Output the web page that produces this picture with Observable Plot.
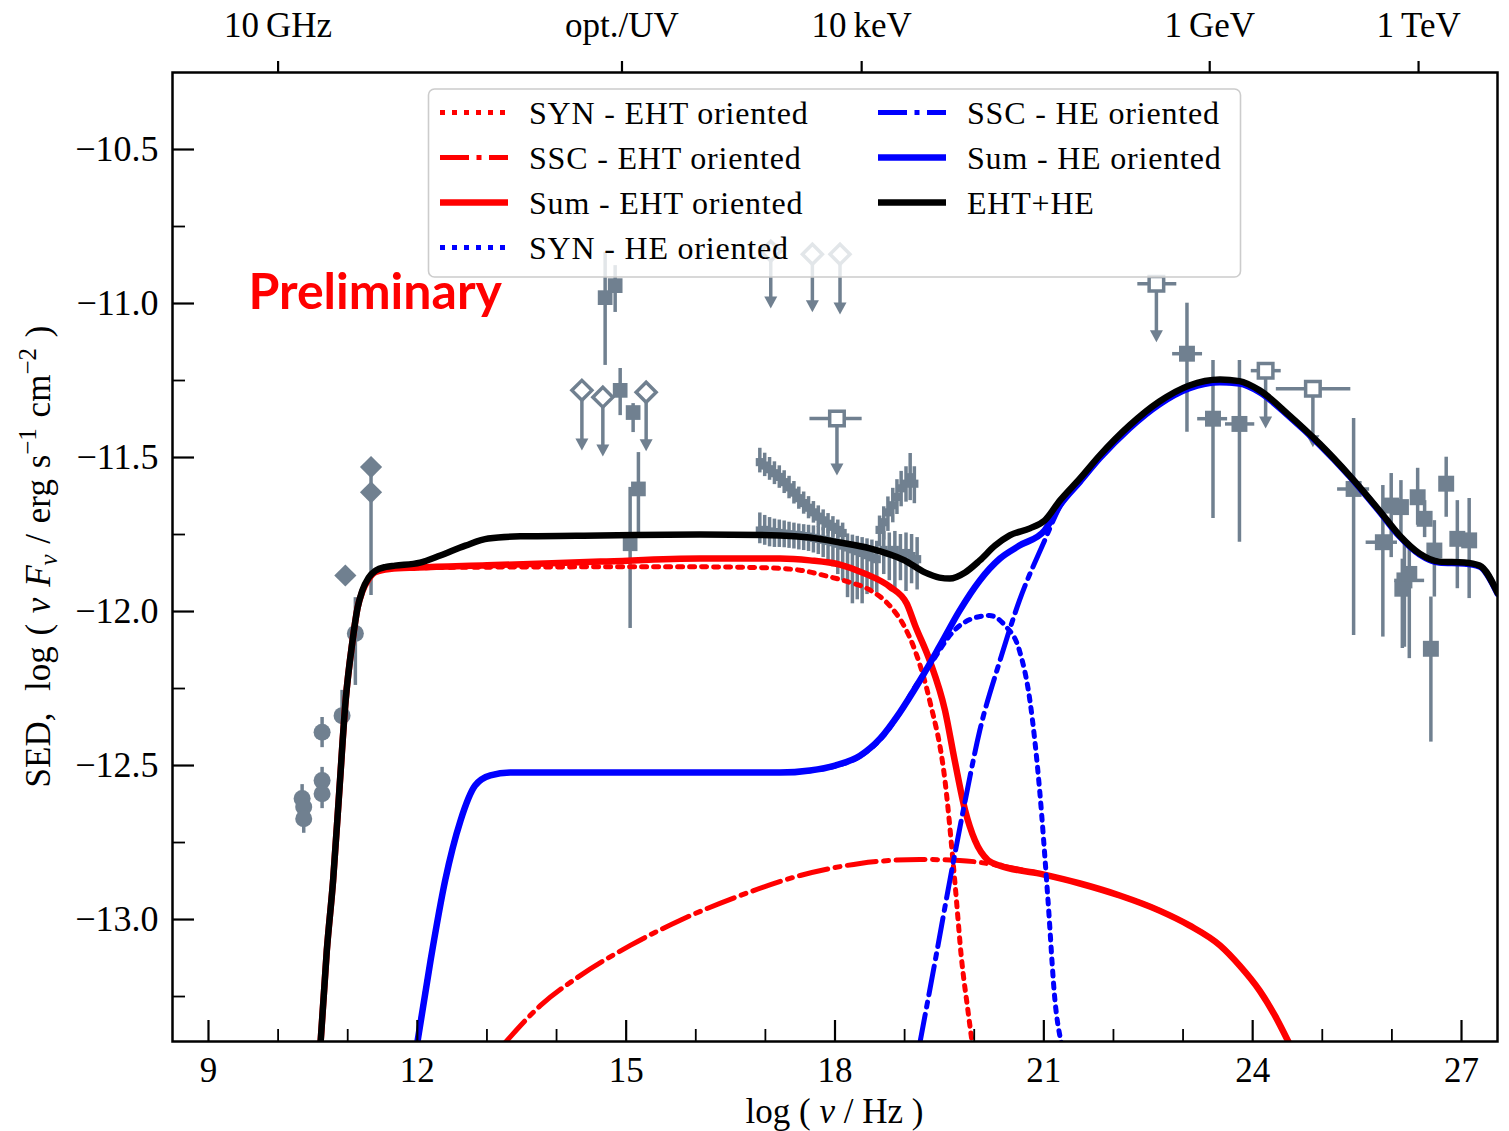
<!DOCTYPE html>
<html><head><meta charset="utf-8">
<script src="https://cdn.jsdelivr.net/npm/d3@7"></script>
<script src="https://cdn.jsdelivr.net/npm/@observablehq/plot@0.6"></script>
<style>
html,body{margin:0;padding:0;background:#fff;}
#chart{width:1509px;height:1131px;}
</style></head>
<body><div id="chart"></div>
<script>
// ---------- axis ticks ----------
const xMajorTicks = [9, 12, 15, 18, 21, 24, 27];
const xMinorTicks = [10, 11, 13, 14, 16, 17, 19, 20, 22, 23, 25, 26];
const yMajorTicks = [-10.5, -11.0, -11.5, -12.0, -12.5, -13.0];
const yMinorTicks = [-10.75, -11.25, -11.75, -12.25, -12.75, -13.25];
const topTickPos = [10.0, 14.94, 18.383, 23.383, 26.383];
const topTickLab = ["10\u2009GHz", "opt./UV", "10\u2009keV", "1\u2009GeV", "1\u2009TeV"];

// ---------- model curves [log nu, log nuFnu] ----------
const synEHT = [[10.61,-13.40],[10.70,-13.10],[10.79,-12.873],[10.88,-12.58],[10.97,-12.289],[11.07,-12.094],[11.14,-11.99],[11.21,-11.935],[11.30,-11.895],[11.40,-11.872],[11.60,-11.862],[12.0,-11.858],[13.0,-11.856],[14.63,-11.855],[16.06,-11.855],[17.0,-11.858],[17.5,-11.866],[17.88,-11.885],[18.21,-11.905],[18.5,-11.93],[18.79,-11.982],[19.0,-12.05],[19.15,-12.127],[19.36,-12.289],[19.58,-12.549],[19.72,-12.873],[19.82,-13.133],[19.91,-13.296],[19.97,-13.40]];
const sscEHT = [[13.26,-13.40],[13.77,-13.279],[14.34,-13.182],[15.06,-13.084],[15.77,-13.003],[16.64,-12.922],[17.50,-12.857],[18.36,-12.818],[19.22,-12.805],[19.79,-12.808],[20.37,-12.825],[20.94,-12.851],[21.52,-12.883],[22.09,-12.922],[22.66,-12.971],[23.09,-13.019],[23.53,-13.084],[23.81,-13.149],[24.10,-13.231],[24.32,-13.312],[24.52,-13.40]];
const sumEHT = [[10.61,-13.40],[10.70,-13.10],[10.79,-12.873],[10.88,-12.58],[10.97,-12.289],[11.07,-12.094],[11.14,-11.99],[11.21,-11.935],[11.30,-11.895],[11.40,-11.872],[11.60,-11.862],[12.0,-11.857],[13.0,-11.850],[14.63,-11.838],[16.06,-11.828],[17.21,-11.828],[17.64,-11.834],[18.07,-11.848],[18.43,-11.877],[18.79,-11.92],[19.03,-11.974],[19.15,-12.045],[19.36,-12.159],[19.58,-12.321],[19.72,-12.484],[19.87,-12.646],[20.01,-12.743],[20.20,-12.808],[20.37,-12.825],[20.94,-12.851],[21.52,-12.883],[22.09,-12.922],[22.66,-12.971],[23.09,-13.019],[23.53,-13.084],[23.81,-13.149],[24.10,-13.231],[24.32,-13.312],[24.52,-13.40]];
const synHE = [[12.0,-13.40],[12.19,-13.133],[12.40,-12.873],[12.62,-12.679],[12.83,-12.565],[13.05,-12.532],[13.33,-12.523],[17.21,-12.523],[17.64,-12.517],[18.0,-12.502],[18.36,-12.47],[18.65,-12.415],[18.93,-12.33],[19.15,-12.245],[19.36,-12.175],[19.72,-12.06],[20.01,-12.02],[20.22,-12.013],[20.44,-12.045],[20.65,-12.127],[20.80,-12.289],[20.94,-12.581],[21.06,-12.938],[21.16,-13.263],[21.25,-13.40]];
const sscHE = [[19.22,-13.40],[19.44,-13.133],[19.65,-12.873],[19.87,-12.614],[20.08,-12.386],[20.37,-12.159],[20.65,-11.964],[21.01,-11.77],[21.23,-11.66],[21.52,-11.579],[21.80,-11.503],[22.23,-11.405],[22.66,-11.327],[23.09,-11.275],[23.53,-11.256],[23.81,-11.26],[24.10,-11.288],[24.53,-11.368],[24.96,-11.458],[25.39,-11.56],[25.82,-11.675],[26.11,-11.756],[26.40,-11.815],[26.68,-11.841],[27.04,-11.844],[27.26,-11.854],[27.52,-11.943]];
const sumHE = [[12.0,-13.40],[12.19,-13.133],[12.40,-12.873],[12.62,-12.679],[12.83,-12.565],[13.05,-12.532],[13.33,-12.523],[14.63,-12.523],[17.21,-12.523],[17.64,-12.516],[18.0,-12.50],[18.36,-12.468],[18.65,-12.412],[18.93,-12.328],[19.22,-12.224],[19.51,-12.110],[19.79,-11.997],[20.08,-11.899],[20.37,-11.828],[20.65,-11.786],[21.01,-11.737],[21.23,-11.655],[21.52,-11.578],[21.80,-11.503],[22.23,-11.405],[22.66,-11.327],[23.09,-11.275],[23.53,-11.256],[23.81,-11.26],[24.10,-11.288],[24.53,-11.368],[24.96,-11.458],[25.39,-11.56],[25.82,-11.675],[26.11,-11.756],[26.40,-11.815],[26.68,-11.841],[27.04,-11.844],[27.26,-11.854],[27.52,-11.943]];
const ehtHE = [[10.61,-13.40],[10.70,-13.10],[10.79,-12.873],[10.88,-12.58],[10.97,-12.289],[11.07,-12.094],[11.14,-11.99],[11.21,-11.932],[11.30,-11.89],[11.40,-11.867],[11.55,-11.855],[11.68,-11.851],[12.04,-11.841],[12.33,-11.818],[12.69,-11.786],[13.02,-11.763],[13.48,-11.756],[14.63,-11.753],[16.06,-11.750],[17.21,-11.753],[17.64,-11.760],[18.07,-11.776],[18.50,-11.795],[19.00,-11.834],[19.29,-11.873],[19.50,-11.89],[19.65,-11.893],[19.87,-11.873],[20.08,-11.834],[20.30,-11.786],[20.51,-11.753],[20.80,-11.730],[21.01,-11.705],[21.23,-11.640],[21.52,-11.568],[21.80,-11.494],[22.23,-11.396],[22.66,-11.318],[23.09,-11.266],[23.53,-11.247],[23.81,-11.252],[24.10,-11.282],[24.53,-11.364],[24.96,-11.455],[25.39,-11.558],[25.82,-11.672],[26.11,-11.753],[26.40,-11.812],[26.68,-11.838],[27.04,-11.841],[27.26,-11.851],[27.52,-11.94]];

// ---------- data points ----------
const radioCircles = [
  {x:10.345, y:-12.607, lo:-12.652, hi:-12.562},
  {x:10.368, y:-12.635, lo:-12.680, hi:-12.590},
  {x:10.368, y:-12.673, lo:-12.720, hi:-12.628},
  {x:10.632, y:-12.549, lo:-12.590, hi:-12.506},
  {x:10.632, y:-12.592, lo:-12.640, hi:-12.550},
  {x:10.632, y:-12.392, lo:-12.442, hi:-12.344},
  {x:10.919, y:-12.338, lo:-12.364, hi:-12.256},
  {x:11.110, y:-12.071, lo:-12.240, hi:-11.955}
];
const radioDiamonds = [
  {x:10.966, y:-11.883, lo:-11.883, hi:-11.883},
  {x:11.335, y:-11.531, lo:-11.531, hi:-11.531},
  {x:11.335, y:-11.613, lo:-11.948, hi:-11.56}
];
const optSquares = [
  {x:14.698, y:-10.981, lo:-11.201, hi:-10.834},
  {x:14.842, y:-10.942, lo:-11.029, hi:-10.877},
  {x:14.914, y:-11.282, lo:-11.364, hi:-11.211},
  {x:15.100, y:-11.354, lo:-11.419, hi:-11.325},
  {x:15.176, y:-11.602, lo:-11.744, hi:-11.484},
  {x:15.057, y:-11.780, lo:-12.055, hi:-11.597}
];
const ulDiamonds = [
  {x:14.364, y:-11.282, tip:-11.477},
  {x:14.665, y:-11.304, tip:-11.497},
  {x:15.287, y:-11.288, tip:-11.480},
  {x:17.077, y:-10.830, tip:-11.016},
  {x:17.675, y:-10.840, tip:-11.028},
  {x:18.072, y:-10.840, tip:-11.036}
];
const ulSquares = [
  {x:18.028, y:-11.373, tip:-11.558, xlo:17.64, xhi:18.39},
  {x:22.617, y:-10.936, tip:-11.126, xlo:22.35, xhi:22.91},
  {x:24.186, y:-11.218, tip:-11.406, xlo:23.98, xhi:24.41},
  {x:24.865, y:-11.277, tip:-11.467, xlo:24.34, xhi:25.41}
];
const gammaSquares = [
  {x:23.056, y:-11.163, lo:-11.418, hi:-10.999, xlo:22.85, xhi:23.28},
  {x:23.430, y:-11.374, lo:-11.698, hi:-11.185, xlo:23.21, xhi:23.64},
  {x:23.810, y:-11.391, lo:-11.775, hi:-11.185, xlo:23.61, xhi:24.03},
  {x:25.450, y:-11.602, lo:-12.078, hi:-11.373, xlo:25.22, xhi:25.68},
  {x:25.870, y:-11.775, lo:-12.083, hi:-11.591, xlo:25.63, xhi:26.08},
  {x:25.990, y:-11.656, lo:-11.825, hi:-11.552, xlo:25.88, xhi:26.10},
  {x:26.130, y:-11.661, lo:-11.770, hi:-11.575, xlo:26.03, xhi:26.23},
  {x:26.370, y:-11.629, lo:-11.720, hi:-11.535, xlo:26.28, xhi:26.45},
  {x:26.470, y:-11.699, lo:-11.760, hi:-11.640, xlo:26.47, xhi:26.47},
  {x:26.780, y:-11.585, lo:-11.694, hi:-11.499, xlo:26.78, xhi:26.78},
  {x:26.610, y:-11.802, lo:-11.953, hi:-11.705, xlo:26.61, xhi:26.61},
  {x:26.180, y:-11.899, lo:-12.116, hi:-11.769, xlo:26.04, xhi:26.47},
  {x:26.150, y:-11.926, lo:-12.120, hi:-11.830, xlo:26.15, xhi:26.15},
  {x:26.250, y:-11.878, lo:-12.153, hi:-11.790, xlo:26.25, xhi:26.25},
  {x:26.940, y:-11.764, lo:-11.926, hi:-11.640, xlo:26.85, xhi:27.05},
  {x:27.110, y:-11.769, lo:-11.958, hi:-11.633, xlo:27.00, xhi:27.23},
  {x:26.560, y:-12.121, lo:-12.424, hi:-11.953, xlo:26.56, xhi:26.56}
];
const xraySoft = [
  {x:16.92, y:-11.515, lo:-11.550, hi:-11.470},
  {x:16.99, y:-11.526, lo:-11.562, hi:-11.486},
  {x:17.06, y:-11.538, lo:-11.574, hi:-11.500},
  {x:17.13, y:-11.551, lo:-11.588, hi:-11.514},
  {x:17.20, y:-11.563, lo:-11.600, hi:-11.527},
  {x:17.27, y:-11.580, lo:-11.617, hi:-11.543},
  {x:17.34, y:-11.597, lo:-11.634, hi:-11.561},
  {x:17.41, y:-11.614, lo:-11.651, hi:-11.578},
  {x:17.48, y:-11.632, lo:-11.668, hi:-11.596},
  {x:17.55, y:-11.648, lo:-11.684, hi:-11.612},
  {x:17.62, y:-11.663, lo:-11.699, hi:-11.627},
  {x:17.69, y:-11.678, lo:-11.713, hi:-11.643},
  {x:17.76, y:-11.692, lo:-11.727, hi:-11.657},
  {x:17.83, y:-11.704, lo:-11.738, hi:-11.670},
  {x:17.90, y:-11.715, lo:-11.748, hi:-11.682},
  {x:17.97, y:-11.725, lo:-11.758, hi:-11.692},
  {x:18.04, y:-11.735, lo:-11.766, hi:-11.703},
  {x:18.11, y:-11.745, lo:-11.776, hi:-11.713}
];
const xrayFlat = [
  {x:16.92, y:-11.737, lo:-11.780, hi:-11.680},
  {x:16.99, y:-11.735, lo:-11.785, hi:-11.688},
  {x:17.06, y:-11.740, lo:-11.790, hi:-11.695},
  {x:17.13, y:-11.742, lo:-11.792, hi:-11.700},
  {x:17.20, y:-11.745, lo:-11.792, hi:-11.703},
  {x:17.27, y:-11.747, lo:-11.793, hi:-11.706},
  {x:17.34, y:-11.749, lo:-11.795, hi:-11.710},
  {x:17.41, y:-11.751, lo:-11.797, hi:-11.713},
  {x:17.48, y:-11.752, lo:-11.800, hi:-11.716},
  {x:17.55, y:-11.755, lo:-11.802, hi:-11.718},
  {x:17.62, y:-11.757, lo:-11.805, hi:-11.720},
  {x:17.69, y:-11.761, lo:-11.810, hi:-11.722},
  {x:17.76, y:-11.764, lo:-11.815, hi:-11.725},
  {x:17.83, y:-11.767, lo:-11.825, hi:-11.728},
  {x:17.90, y:-11.771, lo:-11.840, hi:-11.731},
  {x:17.97, y:-11.775, lo:-11.855, hi:-11.735},
  {x:18.04, y:-11.780, lo:-11.880, hi:-11.740},
  {x:18.11, y:-11.786, lo:-11.900, hi:-11.744},
  {x:18.18, y:-11.792, lo:-11.955, hi:-11.748},
  {x:18.25, y:-11.798, lo:-11.975, hi:-11.752},
  {x:18.32, y:-11.804, lo:-11.962, hi:-11.756},
  {x:18.39, y:-11.810, lo:-11.975, hi:-11.760},
  {x:18.46, y:-11.817, lo:-11.945, hi:-11.764},
  {x:18.53, y:-11.824, lo:-11.930, hi:-11.768},
  {x:18.60, y:-11.830, lo:-11.940, hi:-11.772}
];
const xrayHard = [
  {x:18.64, y:-11.735, lo:-11.790, hi:-11.690},
  {x:18.70, y:-11.710, lo:-11.768, hi:-11.660},
  {x:18.76, y:-11.678, lo:-11.740, hi:-11.628},
  {x:18.83, y:-11.655, lo:-11.712, hi:-11.600},
  {x:18.89, y:-11.628, lo:-11.685, hi:-11.572},
  {x:18.95, y:-11.600, lo:-11.660, hi:-11.545},
  {x:19.02, y:-11.585, lo:-11.645, hi:-11.530},
  {x:19.08, y:-11.564, lo:-11.640, hi:-11.487},
  {x:19.14, y:-11.585, lo:-11.650, hi:-11.530}
];
const xrayHardLow = [
  {x:18.70, y:-11.800, lo:-11.880, hi:-11.740},
  {x:18.78, y:-11.810, lo:-11.900, hi:-11.745},
  {x:18.86, y:-11.800, lo:-11.930, hi:-11.740},
  {x:18.94, y:-11.820, lo:-11.900, hi:-11.750},
  {x:19.02, y:-11.810, lo:-11.935, hi:-11.745},
  {x:19.10, y:-11.820, lo:-11.910, hi:-11.750},
  {x:19.18, y:-11.830, lo:-11.930, hi:-11.760}
];
const annotations = [{text: "Preliminary", x: 9.574, y: -11.019}];

// ---------- styling ----------
const SERIF = "'Liberation Serif', 'Times New Roman', serif";
const GRAY = "#708090";
const W = 1509, H = 1131, ML = 172, MR = 12, MT = 72, MB = 90;
const PW = W - ML - MR, PH = H - MT - MB;
const DOT = "5,7", DASHDOT = "29,7.5,5,7.5";
const LW = 6.5, LW2 = 5;

const triDown = {draw(ctx) { ctx.moveTo(-6.5, -12); ctx.lineTo(6.5, -12); ctx.lineTo(0, 0); ctx.closePath(); }};
const topMap = new Map(topTickPos.map((v, i) => [v, topTickLab[i]]));
const yFmt = d => d3.format(".1f")(d).replace("-", "\u2212");

const errAll = [...radioCircles, ...radioDiamonds, ...optSquares, ...gammaSquares];
const xrayAll = [...xraySoft, ...xrayFlat, ...xrayHard, ...xrayHardLow];
const line = (data, stroke, w, dash) => Plot.line(data, {x: d => d[0], y: d => d[1], stroke, strokeWidth: w, strokeDasharray: dash, curve: "monotone-x", clip: true, strokeLinejoin: "round"});

const svg = Plot.plot({
  width: W, height: H,
  marginLeft: ML, marginRight: MR, marginTop: MT, marginBottom: MB,
  x: {domain: [8.483, 27.517]},
  y: {domain: [-13.396, -10.25]},
  style: {fontFamily: SERIF, background: "white", color: "black", overflow: "visible"},
  marks: [
    // error bars
    Plot.ruleX(errAll, {x: "x", y1: "lo", y2: "hi", stroke: GRAY, strokeWidth: 3.5, clip: true}),
    Plot.ruleY(gammaSquares, {y: "y", x1: "xlo", x2: "xhi", stroke: GRAY, strokeWidth: 3.5, clip: true}),
    Plot.ruleX(xrayAll, {x: "x", y1: "lo", y2: "hi", stroke: GRAY, strokeWidth: 3.5, clip: true}),
    // upper limits
    Plot.ruleX([...ulDiamonds, ...ulSquares], {x: "x", y1: "y", y2: "tip", stroke: GRAY, strokeWidth: 3.5, dy: -4, clip: true}),
    Plot.ruleY(ulSquares, {y: "y", x1: "xlo", x2: "xhi", stroke: GRAY, strokeWidth: 3.5, clip: true}),
    Plot.dot([...ulDiamonds, ...ulSquares], {x: "x", y: "tip", symbol: triDown, fill: GRAY, stroke: "none", clip: true}),
    // markers
    Plot.dot(xrayAll, {x: "x", y: "y", symbol: "square", r: 4.6, fill: GRAY, clip: true}),
    Plot.dot(radioCircles, {x: "x", y: "y", symbol: "circle", r: 8.5, fill: GRAY, clip: true}),
    Plot.dot(radioDiamonds, {x: "x", y: "y", symbol: "diamond2", r: 10, fill: GRAY, clip: true}),
    Plot.dot(optSquares, {x: "x", y: "y", symbol: "square", r: 8.3, fill: GRAY, clip: true}),
    Plot.dot(gammaSquares, {x: "x", y: "y", symbol: "square", r: 9, fill: GRAY, clip: true}),
    Plot.dot(ulDiamonds, {x: "x", y: "y", symbol: "diamond2", r: 9, fill: "white", stroke: GRAY, strokeWidth: 3.5, clip: true}),
    Plot.dot(ulSquares, {x: "x", y: "y", symbol: "square", r: 8.2, fill: "white", stroke: GRAY, strokeWidth: 3.5, clip: true}),
    // model curves
    line(synEHT, "#ff0000", LW2, DOT),
    line(sscEHT, "#ff0000", LW2, DASHDOT),
    line(sumEHT, "#ff0000", LW),
    line(synHE, "#0000ff", LW2, DOT),
    line(sscHE, "#0000ff", LW2, DASHDOT),
    line(sumHE, "#0000ff", LW),
    line(ehtHE, "black", LW),
    // frame & ticks
    Plot.frame({stroke: "black", strokeWidth: 2.5}),
    Plot.ruleX(xMajorTicks, {x: d => d, insetTop: PH - 21, stroke: "black", strokeWidth: 2.2}),
    Plot.ruleX(xMinorTicks, {x: d => d, insetTop: PH - 12, stroke: "black", strokeWidth: 1.8}),
    Plot.ruleY(yMajorTicks, {y: d => d, insetRight: PW - 22, stroke: "black", strokeWidth: 2.2}),
    Plot.ruleY(yMinorTicks, {y: d => d, insetRight: PW - 13, stroke: "black", strokeWidth: 1.8}),
    Plot.axisX(xMajorTicks, {anchor: "bottom", tickSize: 0, tickPadding: 16, fontSize: 35, label: null, tickFormat: d => String(d)}),
    Plot.axisY(yMajorTicks, {anchor: "left", tickSize: 0, tickPadding: 14, fontSize: 36, label: null, tickFormat: yFmt}),
    Plot.axisX(topTickPos, {anchor: "top", tickSize: 12, tickPadding: 24, fontSize: 35, label: null, strokeWidth: 2.2, tickFormat: d => topMap.get(d)}),
    // annotation
    Plot.text(annotations, {x: "x", y: "y", text: "text", textAnchor: "start", lineAnchor: "bottom", fill: "#ff0000", fontSize: 50, fontWeight: "bold", fontFamily: "Lato, 'Open Sans', sans-serif"})
  ]
});

const s = d3.select(svg);
// x-axis title
const xt = s.append("text").attr("x", (ML + W - MR) / 2).attr("y", 1123).attr("text-anchor", "middle")
  .attr("font-family", SERIF).attr("font-size", 35).attr("fill", "black");
xt.append("tspan").text("log ( ");
xt.append("tspan").attr("font-style", "italic").text("ν");
xt.append("tspan").text(" / Hz )");
// y-axis title
const yt = s.append("text").attr("transform", `translate(50,${(MT + H - MB) / 2}) rotate(-90)`).attr("text-anchor", "middle")
  .attr("font-family", SERIF).attr("font-size", 35).attr("fill", "black").attr("word-spacing", 2);
yt.append("tspan").text("SED,  log ( ");
yt.append("tspan").attr("font-style", "italic").text("ν F");
yt.append("tspan").attr("font-style", "italic").attr("font-size", 25).attr("dy", 7).text("ν");
yt.append("tspan").attr("dy", -7).text(" / erg s");
yt.append("tspan").attr("font-size", 25).attr("dy", -14).text("−1");
yt.append("tspan").attr("dy", 14).text(" cm");
yt.append("tspan").attr("font-size", 25).attr("dy", -14).text("−2");
yt.append("tspan").attr("dy", 14).text(" )");

// legend
const lg = s.append("g").attr("text-anchor", "start");
lg.append("rect").attr("x", 428.5).attr("y", 89).attr("width", 812).attr("height", 188).attr("rx", 6)
  .attr("fill", "rgba(255,255,255,0.8)").attr("stroke", "#cccccc").attr("stroke-width", 1.6);
const legendItems = [
  {label: "SYN - EHT oriented", color: "#ff0000", w: LW2, dash: DOT, col: 0, row: 0},
  {label: "SSC - EHT oriented", color: "#ff0000", w: LW2, dash: DASHDOT, col: 0, row: 1},
  {label: "Sum - EHT oriented", color: "#ff0000", w: LW, dash: null, col: 0, row: 2},
  {label: "SYN - HE oriented", color: "#0000ff", w: LW2, dash: DOT, col: 0, row: 3},
  {label: "SSC - HE oriented", color: "#0000ff", w: LW2, dash: DASHDOT, col: 1, row: 0},
  {label: "Sum - HE oriented", color: "#0000ff", w: LW, dash: null, col: 1, row: 1},
  {label: "EHT+HE", color: "black", w: LW, dash: null, col: 1, row: 2}
];
for (const it of legendItems) {
  const x0 = it.col ? 878 : 440, yc = 112.5 + it.row * 45;
  lg.append("line").attr("x1", x0).attr("x2", x0 + 68).attr("y1", yc).attr("y2", yc)
    .attr("stroke", it.color).attr("stroke-width", it.w).attr("stroke-dasharray", it.dash);
  lg.append("text").attr("x", x0 + 89).attr("y", yc + 11).attr("text-anchor", "start").attr("font-family", SERIF)
    .attr("font-size", 32).attr("letter-spacing", 0.8).attr("fill", "black").text(it.label);
}
document.getElementById("chart").append(svg);
</script></body></html>
